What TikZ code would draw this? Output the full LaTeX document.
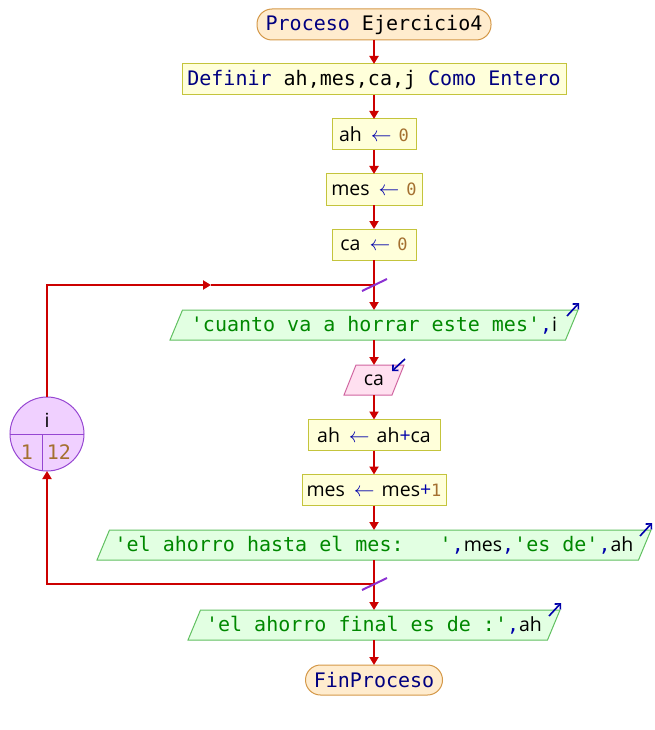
\documentclass[tikz,border=0pt]{standalone}
\usepackage{fontspec}
\setmainfont{Open Sans}
\newfontfamily\codefont{DejaVu Sans Mono}
\usetikzlibrary{arrows.meta,calc,backgrounds}

% palette
\definecolor{kwcol}{RGB}{0,0,128}
\definecolor{strcol}{RGB}{0,136,0}
\definecolor{numcol}{RGB}{164,112,48}
\definecolor{opcol}{RGB}{0,0,170}
\definecolor{flowred}{RGB}{204,0,0}
\definecolor{slashcol}{RGB}{140,50,210}
\definecolor{termfill}{RGB}{255,236,206}
\definecolor{termdraw}{RGB}{212,152,72}
\definecolor{asgfill}{RGB}{255,255,218}
\definecolor{asgdraw}{RGB}{196,196,60}
\definecolor{outfill}{RGB}{226,255,226}
\definecolor{outdraw}{RGB}{96,192,96}
\definecolor{infill}{RGB}{255,224,240}
\definecolor{indraw}{RGB}{208,100,160}
\definecolor{loopfill}{RGB}{240,208,255}
\definecolor{loopdraw}{RGB}{150,70,210}

% text helpers
\newcommand\mono{\codefont\fontsize{20}{24}\selectfont}
\newcommand\smallmono{\codefont\fontsize{17}{22}\selectfont}
\newcommand\q{\textquotesingle}
\newcommand\pkw[1]{{\mono\color{kwcol}#1}}
\newcommand\pstr[1]{{\mono\color{strcol}#1}}
\newcommand\pnum[1]{{\smallmono\color{numcol}#1}}
\newcommand\bignum[1]{{\mono\color{numcol}#1}}
\newcommand\pcom{{\mono\color{opcol},}}
% assignment arrow with its surrounding gaps
\newcommand\pasg{\hspace{9pt}\textcolor{opcol}{\fontsize{21}{22}\selectfont$\leftarrow$}\hspace{7pt}}
\newcommand\pplus{\textcolor{opcol}{+}}

\tikzset{
  box/.style={minimum height=31pt, inner sep=0pt, outer sep=0pt,
    font=\fontsize{19.5}{22}\selectfont},
  termbox/.style={box, rounded corners=15pt, draw=termdraw, fill=termfill, line width=1pt},
  asgbox/.style={box, draw=asgdraw, fill=asgfill, line width=1pt},
  iobox/.style={box, minimum height=30pt},
  outshape/.style={draw=outdraw, fill=outfill, line width=1pt},
  inshape/.style={draw=indraw, fill=infill, line width=1pt},
  flowline/.style={draw=flowred, line width=2pt},
  flow/.style={flowline, -{Triangle[length=8pt,width=9pt]}},
  slash/.style={draw=slashcol, line width=2pt},
  ioarrow/.style={draw=opcol, line width=1.6pt, -{Straight Barb[length=4pt,width=8pt]}},
  loopnode/.style={circle, minimum size=74pt, inner sep=0pt, outer sep=0pt,
    draw=loopdraw, fill=loopfill, line width=1pt},
  looptext/.style={inner sep=0pt, font=\fontsize{19.5}{22}\selectfont}
}

\begin{document}
\begin{tikzpicture}[x=1pt,y=-1pt]
\useasboundingbox (0,0) rectangle (654,730);

% main column
\node[termbox, minimum width=234pt] (start) at (374,24.5)
  {{\mono\color{kwcol}Proceso \color{black}Ejercicio4}};
\node[asgbox, minimum width=384pt] (def) at (374,79.5)
  {{\mono\color{kwcol}Definir \color{black}ah,mes,ca,j \color{kwcol}Como Entero}};
\node[asgbox, minimum width=84pt] (a1) at (374,134.5) {ah\pasg\pnum{0}};
\node[asgbox, minimum width=96pt] (m1) at (374,189.5) {mes\pasg\pnum{0}};
\node[asgbox, minimum width=84pt] (c1) at (374,244.5) {ca\pasg\pnum{0}};
\coordinate (J1) at (374,285);

\node[iobox, minimum width=408pt] (o1) at (374,325)
  {\pstr{\q cuanto va a horrar este mes\q}\pcom i};
\node[iobox, minimum width=60pt] (rd) at (374,380) {ca};
\node[asgbox, minimum width=132pt] (a2) at (374,435) {ah\pasg ah\pplus ca};
\node[asgbox, minimum width=144pt] (m2) at (374,490) {mes\pasg mes\pplus\pnum{1}};
\node[iobox, minimum width=554pt] (o2) at (374,545)
  {\pstr{\q el ahorro hasta el mes:\ \ \ \q}\pcom mes\pcom\pstr{\q es de\q}\pcom ah};
\coordinate (J2) at (374,584);
\node[iobox, minimum width=372pt] (o3) at (374,625)
  {\pstr{\q el ahorro final es de :\q}\pcom ah};
\node[termbox, minimum width=137pt, minimum height=30pt] (end) at (374,680)
  {\pkw{FinProceso}};

% slanted input/output outlines
\begin{pgfonlayer}{background}
  \foreach \n in {o1,o2,o3}{
    \draw[outshape] ($(\n.north west)+(12.5,0)$) -- (\n.north east)
      -- ($(\n.south east)-(12.5,0)$) -- (\n.south west) -- cycle;
  }
  \draw[inshape] ($(rd.north west)+(12,0)$) -- (rd.north east)
    -- ($(rd.south east)-(12,0)$) -- (rd.south west) -- cycle;
\end{pgfonlayer}

% output / input markers
\foreach \n in {o1,o2,o3}{
  \draw[ioarrow] ($(\n.north east)+(-11,6)$) -- ($(\n.north east)+(1,-7)$);
}
\draw[ioarrow] ($(rd.north east)+(1,-6)$) -- ($(rd.north east)+(-12,6)$);

% loop counter
\node[loopnode] (loop) at (47,434) {};
\draw[draw=loopdraw, line width=1pt] (loop.west) -- (loop.east);
\draw[draw=loopdraw, line width=1pt] ($(loop.center)+(-5,0)$) -- ($(loop.center)+(-5,36.6)$);
\node[looptext] (lvar) at (47,420) {i};
\node[looptext] (lfrom) at (27,452) {\bignum{1}};
\node[looptext] (lto) at (59,452) {\bignum{12}};

% flow
\draw[flow] (start) -- (def);
\draw[flow] (def) -- (a1);
\draw[flow] (a1) -- (m1);
\draw[flow] (m1) -- (c1);
\draw[flow] (c1) -- (o1);
\draw[flow] (o1) -- (rd);
\draw[flow] (rd) -- (a2);
\draw[flow] (a2) -- (m2);
\draw[flow] (m2) -- (o2);
\draw[flow] (o2) -- (o3);
\draw[flow] (o3) -- (end);

% loop back
\coordinate (mid) at (211,285);
\draw[flow] (loop.north) |- (mid);
\draw[flowline] (mid) -- (J1);
\draw[flow] (J2) -| (loop.south);

% loop junction marks
\draw[slash] ($(J1)+(-12,6)$) -- ($(J1)+(13,-6)$);
\draw[slash] ($(J2)+(-12,6)$) -- ($(J2)+(13,-6)$);
\end{tikzpicture}
\end{document}
